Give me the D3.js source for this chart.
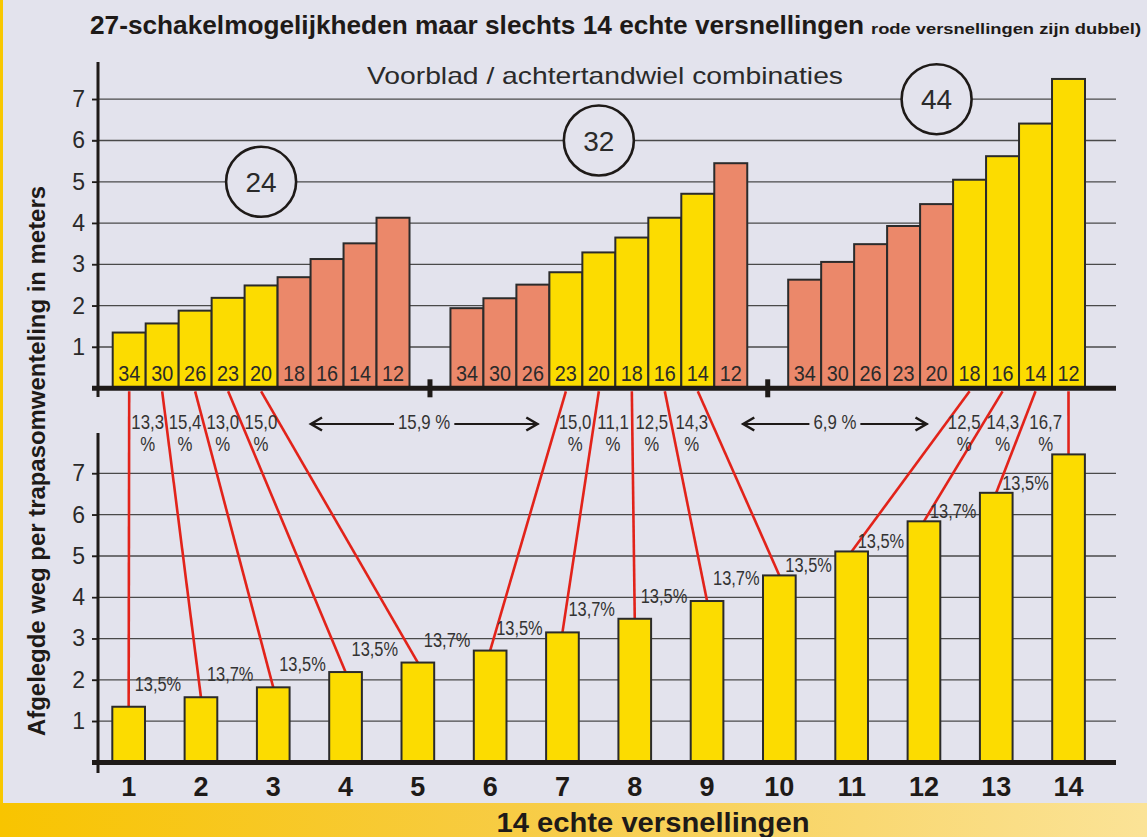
<!DOCTYPE html>
<html><head><meta charset="utf-8">
<script src="https://cdn.jsdelivr.net/npm/d3@7"></script>
<style>body{margin:0;background:#e3e3ed;} svg{display:block}</style>
</head><body>
<script>
// ---------- DATA ----------
const chainrings = [24, 32, 44];
const cogs = [34, 30, 26, 23, 20, 18, 16, 14, 12];
const dev24 = [1.35, 1.57, 1.88, 2.19, 2.49, 2.69, 3.13, 3.51, 4.13];
const dev32 = [1.94, 2.18, 2.51, 2.81, 3.29, 3.65, 4.13, 4.71, 5.45];
const dev44 = [2.63, 3.06, 3.49, 3.93, 4.46, 5.05, 5.62, 6.41, 7.49];
const real24 = [1, 1, 1, 1, 1, 0, 0, 0, 0];
const real32 = [0, 0, 0, 1, 1, 1, 1, 1, 0];
const real44 = [0, 0, 0, 0, 0, 1, 1, 1, 1];
const gears = ["1","2","3","4","5","6","7","8","9","10","11","12","13","14"];
const gearValues = [1.35, 1.58, 1.82, 2.19, 2.42, 2.71, 3.15, 3.48, 3.91, 4.53, 5.11, 5.84, 6.53, 7.46];
const gearRing = [24, 24, 24, 24, 24, 32, 32, 32, 32, 32, 44, 44, 44, 44];
const gearCog  = [34, 30, 26, 23, 20, 23, 20, 18, 16, 14, 18, 16, 14, 12];
const realStepPct = ["13,3","15,4","13,0","15,0","15,9","15,0","11,1","12,5","14,3","6,9","12,5","14,3","16,7"];
const jumpSteps = [4, 9]; // transitions drawn as arrows (gear 5->6, 10->11)
const gearPct = ["13,5%","13,7%","13,5%","13,5%","13,7%","13,5%","13,7%","13,5%","13,7%","13,5%","13,5%","13,7%","13,5%"];
const yTicks = [1, 2, 3, 4, 5, 6, 7];
const titleMain = "27-schakelmogelijkheden maar slechts 14 echte versnellingen";
const titleSmall = "rode versnellingen zijn dubbel)";
const subtitle = "Voorblad / achtertandwiel combinaties";
const yTitle = "Afgelegde weg per trapasomwenteling in meters";
const xTitle = "14 echte versnellingen";

// ---------- STYLE ----------
const W = 1147, H = 837;
const BG = "#e3e3ed", YEL = "#fcdc00", SAL = "#eb886a", INK = "#1e1a18", TXT = "#2a2a2a", RED = "#e2231a";
const SANS = "'Liberation Sans',Arial,sans-serif";
// simulate a condensed face by compressing glyphs horizontally
function narrow(sel, f) {
  sel.each(function () {
    const l = this.getComputedTextLength();
    d3.select(this).attr("textLength", l * (f || 0.8)).attr("lengthAdjust", "spacingAndGlyphs");
  });
}

const svg = d3.select("body").append("svg").attr("width", W).attr("height", H);
svg.append("rect").attr("width", W).attr("height", H).attr("fill", BG);
const defs = svg.append("defs");
const grad = defs.append("linearGradient").attr("id", "band").attr("x1", 0).attr("x2", 1).attr("y1", 0).attr("y2", 0);
grad.append("stop").attr("offset", 0).attr("stop-color", "#f8c400");
grad.append("stop").attr("offset", 0.5).attr("stop-color", "#f7cd4c");
grad.append("stop").attr("offset", 1).attr("stop-color", "#fbe397");
svg.append("rect").attr("x", 0).attr("y", 0).attr("width", 3).attr("height", 803).attr("fill", "#f8c800");
svg.append("rect").attr("x", 0).attr("y", 803).attr("width", W).attr("height", H - 803).attr("fill", "url(#band)");

// ---------- SCALES ----------
const yTop = d3.scaleLinear().domain([0, 7]).range([388.3, 99.2]);
const yBot = d3.scaleLinear().domain([0, 7]).range([762.5, 473.4]);
const xGroup = d3.scaleBand().domain(chainrings).range([112.7, 1085]).paddingInner(0.1212).paddingOuter(0);
const xCog = d3.scaleBand().domain(cogs).range([0, xGroup.bandwidth()]).padding(0);
const xGear = d3.scaleBand().domain(gears).range([92.5, 1104.7]).paddingInner(0.548).paddingOuter(0.274);
const GX0 = 92, GX1 = 1116;

// ---------- TITLES ----------
svg.append("text").attr("x", 90).attr("y", 34).text(titleMain)
  .attr("font-family", SANS).attr("font-weight", "bold").attr("font-size", 26).attr("fill", INK)
  .attr("textLength", 774).attr("lengthAdjust", "spacingAndGlyphs");
svg.append("text").attr("x", 871).attr("y", 34).text(titleSmall)
  .attr("font-family", SANS).attr("font-weight", "bold").attr("font-size", 15).attr("fill", INK)
  .attr("textLength", 270).attr("lengthAdjust", "spacingAndGlyphs");

// ---------- GRIDLINES ----------
[yTop, yBot].forEach(sc => {
  svg.append("g").selectAll("line").data(yTicks).join("line")
    .attr("x1", GX0).attr("x2", GX1).attr("y1", d => sc(d)).attr("y2", d => sc(d))
    .attr("stroke", "#4a4a4a").attr("stroke-width", 1.3);
});

// subtitle
svg.append("text").attr("x", 605).attr("y", 84).attr("text-anchor", "middle").text(subtitle)
  .attr("font-family", SANS).attr("font-size", 24).attr("fill", TXT)
  .attr("textLength", 476).attr("lengthAdjust", "spacingAndGlyphs");

// ---------- Y AXES ----------
function yAxis(scale, top, bottom) {
  const ax = svg.append("g").attr("transform", "translate(98,0)")
    .call(d3.axisLeft(scale).tickValues(yTicks).tickSize(6).tickPadding(7).tickFormat(d3.format("d")));
  ax.select(".domain").remove();
  ax.selectAll(".tick line").attr("stroke", INK).attr("stroke-width", 1.5);
  ax.selectAll(".tick text").attr("font-family", SANS).attr("font-size", 23).attr("fill", TXT);
  svg.append("line").attr("x1", 98).attr("x2", 98).attr("y1", top).attr("y2", bottom)
    .attr("stroke", INK).attr("stroke-width", 3);
}
yAxis(yTop, 62, 397);
yAxis(yBot, 433, 773);

svg.append("text").attr("transform", "translate(45,461) rotate(-90)").attr("text-anchor", "middle")
  .text(yTitle).attr("font-family", SANS).attr("font-weight", "bold").attr("font-size", 23).attr("fill", INK)
  .attr("textLength", 550).attr("lengthAdjust", "spacingAndGlyphs");

// ---------- CIRCLES ----------
const circ = svg.append("g").selectAll("g").data(chainrings).join("g")
  .attr("transform", (d, i) => `translate(${xGroup(d) + xGroup.bandwidth() / 2},${yTop(5 + i)})`);
circ.append("circle").attr("r", 35).attr("fill", BG).attr("stroke", INK).attr("stroke-width", 2.6);
circ.append("text").text(d => d).attr("text-anchor", "middle").attr("dy", "0.36em")
  .attr("font-family", SANS).attr("font-size", 28).attr("fill", TXT);

// ---------- RED CONNECTORS ----------
const topY = yTop(0) + 3;
const cogCenter = (ring, cog) => xGroup(ring) + xCog(cog) + xCog.bandwidth() / 2;
const gearCenter = i => xGear(gears[i]) + xGear.bandwidth() / 2;
const links = gears.map((g, i) => ({
  x1: cogCenter(gearRing[i], gearCog[i]), y1: topY,
  x2: gearCenter(i), y2: yBot(gearValues[i])
}));
svg.append("g").selectAll("line").data(links).join("line")
  .attr("x1", d => d.x1).attr("y1", d => d.y1).attr("x2", d => d.x2).attr("y2", d => d.y2)
  .attr("stroke", RED).attr("stroke-width", 2.6);

// ---------- TOP BARS ----------
const groups = [
  { ring: 24, values: dev24, real: real24 },
  { ring: 32, values: dev32, real: real32 },
  { ring: 44, values: dev44, real: real44 }
];
groups.forEach(gr => {
  const gg = svg.append("g").attr("transform", `translate(${xGroup(gr.ring)},0)`);
  const items = cogs.map((c, i) => ({ cog: c, v: gr.values[i], real: gr.real[i] }));
  gg.selectAll("rect").data(items).join("rect")
    .attr("x", d => xCog(d.cog)).attr("width", xCog.bandwidth())
    .attr("y", d => yTop(d.v)).attr("height", d => yTop(0) - yTop(d.v))
    .attr("fill", d => d.real ? YEL : SAL).attr("stroke", "#2b2b2b").attr("stroke-width", 2);
  gg.selectAll("text").data(items).join("text")
    .attr("x", d => xCog(d.cog) + xCog.bandwidth() / 2).attr("y", yTop(0) - 7)
    .attr("text-anchor", "middle").text(d => d.cog)
    .attr("font-family", SANS).attr("font-size", 22).attr("fill", TXT)
    .call(narrow, 0.9);
});

// top baseline + separators
svg.append("line").attr("x1", GX0).attr("x2", GX1).attr("y1", yTop(0)).attr("y2", yTop(0))
  .attr("stroke", INK).attr("stroke-width", 5);
const seps = chainrings.slice(1).map((r, i) => (xGroup(chainrings[i]) + xGroup.bandwidth() + xGroup(r)) / 2);
svg.append("g").selectAll("rect").data(seps).join("rect")
  .attr("x", d => d - 2.5).attr("width", 5).attr("y", yTop(0) - 9).attr("height", 18).attr("fill", INK);

// ---------- LOWER BARS ----------
svg.append("g").selectAll("rect").data(gears).join("rect")
  .attr("x", d => xGear(d)).attr("width", xGear.bandwidth())
  .attr("y", (d, i) => yBot(gearValues[i])).attr("height", (d, i) => yBot(0) - yBot(gearValues[i]))
  .attr("fill", YEL).attr("stroke", "#2b2b2b").attr("stroke-width", 2);

// lower baseline
svg.append("line").attr("x1", GX0).attr("x2", GX1).attr("y1", yBot(0)).attr("y2", yBot(0))
  .attr("stroke", INK).attr("stroke-width", 5);

// x axis
const xa = svg.append("g").attr("transform", `translate(0,${yBot(0)})`)
  .call(d3.axisBottom(xGear).tickSize(0));
xa.select(".domain").remove();
xa.selectAll(".tick text").attr("y", 33).attr("dy", 0)
  .attr("font-family", SANS).attr("font-weight", "bold").attr("font-size", 27).attr("fill", INK);

// ---------- STEP PERCENTAGES (between charts) ----------
const ROW = 424;
const lineXAt = (l, y) => l.x1 + (l.x2 - l.x1) * (y - l.y1) / (l.y2 - l.y1);
const steps = realStepPct.map((p, i) => ({
  p, i, xa: lineXAt(links[i], ROW), xb: lineXAt(links[i + 1], ROW), jump: jumpSteps.includes(i)
}));
const pctG = svg.append("g").attr("font-family", SANS).attr("font-size", 21).attr("fill", "#333");
steps.filter(s => !s.jump).forEach(s => {
  const cx = (s.xa + s.xb) / 2;
  pctG.append("text").attr("x", cx).attr("y", ROW + 5).attr("text-anchor", "middle").text(s.p).call(narrow, 0.8);
  pctG.append("text").attr("x", cx).attr("y", ROW + 27).attr("text-anchor", "middle").text("%").call(narrow, 0.8);
});
steps.filter(s => s.jump).forEach(s => {
  const a = s.xa + 30, b = s.xb - 18, cx = (a + b) / 2;
  const t = pctG.append("text").attr("x", cx).attr("y", ROW + 5).attr("text-anchor", "middle").text(s.p + " %").call(narrow, 0.8);
  const half = +t.attr("textLength") / 2 + 4;
  const ag = svg.append("g").attr("stroke", INK).attr("fill", "none");
  ag.append("line").attr("x1", a).attr("x2", cx - half).attr("y1", ROW).attr("y2", ROW).attr("stroke-width", 2);
  ag.append("line").attr("x1", cx + half).attr("x2", b).attr("y1", ROW).attr("y2", ROW).attr("stroke-width", 2);
  ag.append("path").attr("d", `M${a + 12},${ROW - 6.5}L${a + 1},${ROW}L${a + 12},${ROW + 6.5}`).attr("stroke-width", 2.6);
  ag.append("path").attr("d", `M${b - 12},${ROW - 6.5}L${b - 1},${ROW}L${b - 12},${ROW + 6.5}`).attr("stroke-width", 2.6);
});

// ---------- LOWER PERCENTAGES ----------
svg.append("g").selectAll("text").data(gearPct).join("text")
  .attr("x", (d, i) => gearCenter(i) + 6)
  .attr("y", (d, i) => yBot(gearValues[i]) - (i < 9 ? 16 : 3))
  .text(d => d)
  .attr("font-family", SANS).attr("font-size", 20).attr("fill", "#333")
  .call(narrow, 0.82);

// bottom title
svg.append("text").attr("x", 653).attr("y", 832).attr("text-anchor", "middle").text(xTitle)
  .attr("font-family", SANS).attr("font-weight", "bold").attr("font-size", 28).attr("fill", INK)
  .attr("textLength", 313).attr("lengthAdjust", "spacingAndGlyphs");
</script>
</body></html>
